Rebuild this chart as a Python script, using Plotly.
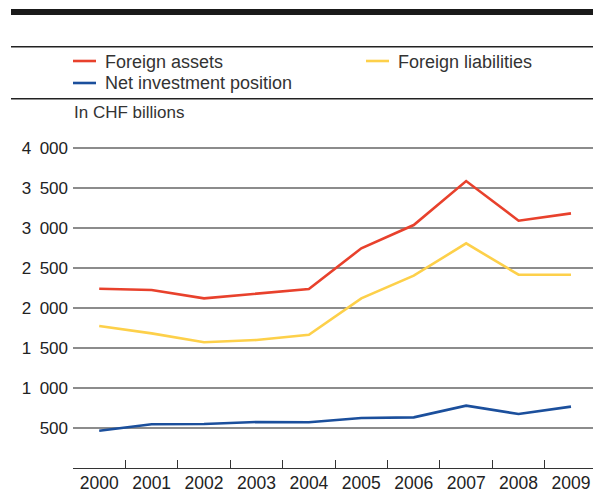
import plotly.graph_objects as go

years = ["2000", "2001", "2002", "2003", "2004", "2005", "2006", "2007", "2008", "2009"]
foreign_assets = [2241, 2225, 2121, 2175, 2237, 2746, 3037, 3587, 3091, 3183]
foreign_liabilities = [1775, 1683, 1571, 1600, 1666, 2121, 2404, 2808, 2416, 2416]
net_position = [466, 546, 550, 575, 571, 625, 633, 779, 675, 767]

y_tickvals = [500, 1000, 1500, 2000, 2500, 3000, 3500, 4000]
y_ticktext = ["500", "1\u2002000", "1\u2002500", "2\u2002000", "2\u2002500", "3\u2002000", "3\u2002500", "4\u2002000"]

RED = "#e8412c"
YELLOW = "#fdd04a"
BLUE = "#1b4f9c"
FONT = "Liberation Sans, Arial, sans-serif"

W, H = 593, 490
L, R, T = 73, 0, 144
B = H - 468
PW, PH = W - L - R, H - T - B


def px(x):
    return (x - L) / PW


def py(y):
    return (H - B - y) / PH


fig = go.Figure()
fig.add_trace(go.Scatter(x=years, y=foreign_assets, mode="lines", name="Foreign assets",
                         line=dict(color=RED, width=2.6), showlegend=False))
fig.add_trace(go.Scatter(x=years, y=foreign_liabilities, mode="lines", name="Foreign liabilities",
                         line=dict(color=YELLOW, width=2.6), showlegend=False))
fig.add_trace(go.Scatter(x=years, y=net_position, mode="lines", name="Net investment position",
                         line=dict(color=BLUE, width=2.6), showlegend=False))

shapes = []
# header rules
shapes.append(dict(type="rect", xref="paper", yref="paper", x0=px(11), x1=px(600), y0=py(15), y1=py(9),
                   fillcolor="#1a1a1a", line=dict(width=0), layer="above"))
for yy in (46.7, 98.7):
    shapes.append(dict(type="line", xref="paper", yref="paper", x0=px(11), x1=px(600), y0=py(yy), y1=py(yy),
                       line=dict(color="#222222", width=1.4)))

legend_items = [("Foreign assets", RED, 73, 61), ("Foreign liabilities", YELLOW, 366, 61),
                ("Net investment position", BLUE, 73, 83)]
annotations = []
for name, col, x0, yy in legend_items:
    shapes.append(dict(type="line", xref="paper", yref="paper", x0=px(x0), x1=px(x0 + 23), y0=py(yy), y1=py(yy),
                       line=dict(color=col, width=2.6)))
    annotations.append(dict(text=name, xref="paper", yref="paper", x=px(x0 + 30), y=py(yy + 0.5),
                            xanchor="left", yanchor="middle", showarrow=False,
                            font=dict(family=FONT, size=18, color="#333333")))

annotations.append(dict(text="In CHF billions", xref="paper", yref="paper", x=px(72), y=py(112),
                        xanchor="left", yanchor="middle", showarrow=False,
                        font=dict(family=FONT, size=17, color="#333333")))

fig.update_layout(
    width=W, height=H,
    margin=dict(l=L, r=R, t=T, b=B, pad=0, autoexpand=False),
    paper_bgcolor="white", plot_bgcolor="white",
    shapes=shapes, annotations=annotations,
    showlegend=False,
    xaxis=dict(type="category", range=[-0.5, 9.42], tickson="boundaries", ticks="inside", ticklen=8,
               tickcolor="#333333", tickwidth=1.2, showline=True, linecolor="#333333", linewidth=1.4,
               showgrid=False, zeroline=False, ticklabelstandoff=-1, automargin=False,
               tickfont=dict(family=FONT, size=17.5, color="#222222")),
    yaxis=dict(range=[0, 4050], tickvals=y_tickvals, ticktext=y_ticktext, showgrid=True,
               gridcolor="#8c8c8c", gridwidth=1.5, zeroline=False, showline=False, ticks="",
               ticklabelstandoff=4, automargin=False,
               tickfont=dict(family=FONT, size=17, color="#222222")),
)

fig.write_html("out.html", config={"displayModeBar": False},
               post_script="document.body.style.margin='0';document.body.style.overflow='hidden';")
